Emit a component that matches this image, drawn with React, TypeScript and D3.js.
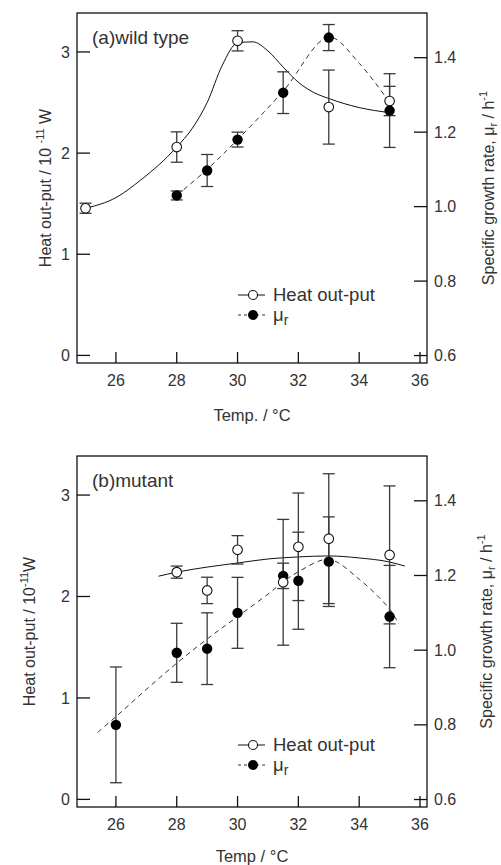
import React from 'react';
import * as d3 from 'd3';

const W = 501;
const H = 865;
const FONT = "'Liberation Sans', Arial, sans-serif";
const INK = '#333';

// axes
const xTicks = [26, 28, 30, 32, 34, 36];
const heatTicks = [0, 1, 2, 3];
const muTicks = [0.6, 0.8, 1.0, 1.2, 1.4];

// (a) wild type – heat out-put (left axis)
const wtHeatTemp = [25, 28, 30, 33, 35];
const wtHeat = [1.455, 2.06, 3.11, 2.455, 2.515];
const wtHeatErr = [0.05, 0.15, 0.1, 0.366, 0.145];

// (a) wild type – specific growth rate (right axis)
const wtMuTemp = [28, 29, 30, 31.5, 33, 35];
const wtMu = [1.03, 1.097, 1.18, 1.306, 1.454, 1.258];
const wtMuErr = [0.012, 0.043, 0.02, 0.056, 0.035, 0.099];

// (a) fitted curves
const wtHeatFitTemp = [25, 26, 26.8, 28, 28.5, 29, 29.5, 30, 30.5, 31, 31.5, 32, 32.5, 33, 34, 35];
const wtHeatFit = [1.455, 1.56, 1.73, 2.06, 2.24, 2.5, 2.87, 3.09, 3.1, 3.01, 2.85, 2.7, 2.6, 2.54, 2.45, 2.4];
const wtMuFitTemp = [28, 29, 30, 31.5, 33, 34, 35];
const wtMuFit = [1.03, 1.1, 1.18, 1.31, 1.455, 1.385, 1.28];

// (b) mutant – heat out-put
const mtHeatTemp = [28, 29, 30, 31.5, 32, 33, 35];
const mtHeat = [2.24, 2.06, 2.46, 2.14, 2.49, 2.57, 2.41];
const mtHeatErr = [0.06, 0.13, 0.14, 0.62, 0.53, 0.64, 0.68];

// (b) mutant – specific growth rate
const mtMuTemp = [26, 28, 29, 30, 31.5, 32, 33, 35];
const mtMu = [0.8, 0.993, 1.004, 1.1, 1.199, 1.186, 1.237, 1.09];
const mtMuErr = [0.155, 0.079, 0.096, 0.095, 0.034, 0.13, 0.12, 0.137];

// (b) fitted curves
const mtHeatFitTemp = [27.4, 28, 29, 30, 31, 32, 33, 34, 35, 35.5];
const mtHeatFit = [2.2, 2.24, 2.29, 2.33, 2.37, 2.39, 2.4, 2.38, 2.34, 2.3];
const mtMuFitTemp = [25.4, 26, 27, 28, 29, 30, 31, 31.5, 32, 33, 34, 35, 35.3];
const mtMuFit = [0.78, 0.822, 0.895, 0.965, 1.03, 1.09, 1.15, 1.183, 1.21, 1.243, 1.19, 1.11, 1.07];

type Series = { t: number[]; v: number[]; e?: number[] };

type PanelProps = {
  top: number;
  height: number;
  title: string;
  xLabel: string;
  xLabelDy: number;
  heat: Series;
  mu: Series;
  heatFit: Series;
  muFit: Series;
  legendY: number;
  leftLabelX: number;
  rightLabelX: number;
  powerGap: string;
};

const Panel = (p: PanelProps) => {
  const bottom = p.top + p.height;
  const x = d3.scaleLinear().domain([24.72, 36.23]).range([77, 427]);
  const yL = d3.scaleLinear().domain([-0.075, 3.385]).range([bottom, p.top]);
  const yR = d3.scaleLinear().domain([0.58, 1.52]).range([bottom, p.top]);
  const midY = p.top + p.height / 2;

  const heatLine = d3
    .line<[number, number]>()
    .x((d) => x(d[0]))
    .y((d) => yL(d[1]))
    .curve(d3.curveMonotoneX);
  const muLine = d3
    .line<[number, number]>()
    .x((d) => x(d[0]))
    .y((d) => yR(d[1]))
    .curve(d3.curveCatmullRom);

  const pts = (s: Series) => s.t.map((t, i) => [t, s.v[i]] as [number, number]);

  const errBars = (s: Series, y: d3.ScaleLinear<number, number>, key: string) =>
    s.t.map((t, i) => {
      const cx = x(t);
      const y0 = y(s.v[i] - (s.e ? s.e[i] : 0));
      const y1 = y(s.v[i] + (s.e ? s.e[i] : 0));
      return (
        <g key={key + i} stroke="#3a3a3a" strokeWidth={1.3}>
          <line x1={cx} x2={cx} y1={y0} y2={y1} />
          <line x1={cx - 6} x2={cx + 6} y1={y0} y2={y0} />
          <line x1={cx - 6} x2={cx + 6} y1={y1} y2={y1} />
        </g>
      );
    });

  const lx = 238;
  const ly = p.top + p.legendY;

  return (
    <g fontFamily={FONT} fill={INK}>
      {/* frame */}
      <rect x={77} y={p.top} width={350} height={p.height} fill="none" stroke="#111" strokeWidth={1.3} />

      {/* x ticks */}
      {xTicks.map((t) => (
        <g key={'x' + t}>
          <line x1={x(t)} x2={x(t)} y1={bottom} y2={bottom - 11} stroke="#111" strokeWidth={1.3} />
          <text x={x(t)} y={bottom + 23} textAnchor="middle" fontSize={16}>
            {t}
          </text>
        </g>
      ))}
      {/* left ticks */}
      {heatTicks.map((t) => (
        <g key={'l' + t}>
          <line x1={77} x2={90} y1={yL(t)} y2={yL(t)} stroke="#111" strokeWidth={1.3} />
          <text x={70} y={yL(t)} dy="0.35em" textAnchor="end" fontSize={16}>
            {t}
          </text>
        </g>
      ))}
      {/* right ticks */}
      {muTicks.map((t) => (
        <g key={'r' + t}>
          <line x1={414} x2={427} y1={yR(t)} y2={yR(t)} stroke="#111" strokeWidth={1.3} />
          <text x={434} y={yR(t)} dy="0.35em" fontSize={16}>
            {d3.format('.1f')(t)}
          </text>
        </g>
      ))}

      {/* fitted curves */}
      <path d={heatLine(pts(p.heatFit)) || ''} fill="none" stroke="#111" strokeWidth={1} />
      <path d={muLine(pts(p.muFit)) || ''} fill="none" stroke="#333" strokeWidth={1} strokeDasharray="5,4" />

      {/* error bars */}
      {errBars(p.heat, yL, 'he')}
      {errBars(p.mu, yR, 'me')}

      {/* markers */}
      {p.mu.t.map((t, i) => (
        <circle key={'mm' + i} cx={x(t)} cy={yR(p.mu.v[i])} r={5.2} fill="#000" />
      ))}
      {p.heat.t.map((t, i) => (
        <circle key={'hm' + i} cx={x(t)} cy={yL(p.heat.v[i])} r={4.8} fill="#fff" stroke="#111" strokeWidth={1.1} />
      ))}

      {/* title */}
      <text x={92} y={p.top + 31} fontSize={19}>
        {p.title}
      </text>

      {/* legend */}
      <line x1={lx} x2={lx + 27} y1={ly} y2={ly} stroke="#111" strokeWidth={1} />
      <circle cx={lx + 15} cy={ly} r={4.5} fill="#fff" stroke="#111" strokeWidth={1.1} />
      <text x={lx + 35} y={ly} dy="0.35em" fontSize={18.5}>
        Heat out-put
      </text>
      <line x1={lx} x2={lx + 27} y1={ly + 20} y2={ly + 20} stroke="#333" strokeWidth={1} strokeDasharray="3,3" />
      <circle cx={lx + 15} cy={ly + 20} r={5} fill="#000" />
      <text x={lx + 35} y={ly + 20} dy="0.35em" fontSize={18.5}>
        μ<tspan fontSize={14} dy={4}>r</tspan>
      </text>

      {/* axis titles */}
      <text x={252} y={bottom + p.xLabelDy} textAnchor="middle" fontSize={16.5}>
        {p.xLabel}
      </text>
      <text transform={`translate(${p.leftLabelX},${midY}) rotate(-90)`} textAnchor="middle" fontSize={16}>
        Heat out-put / 10{p.powerGap}
        <tspan fontSize={11} dy={-7}>-11</tspan>
        <tspan dy={7}>{p.powerGap}W</tspan>
      </text>
      <text transform={`translate(${p.rightLabelX},${midY}) rotate(-90)`} textAnchor="middle" fontSize={16}>
        Specific growth rate, μ<tspan fontSize={11} dy={3}>r</tspan>
        <tspan dy={-3}> / h</tspan>
        <tspan fontSize={11} dy={-7}>-1</tspan>
      </text>
    </g>
  );
};

export default function App() {
  return (
    <svg width={W} height={H} style={{ position: 'absolute', left: 0, top: 0, background: '#fff' }}>
      <rect width={W} height={H} fill="#fff" />
      <Panel
        top={13}
        height={350}
        title="(a)wild type"
        xLabel="Temp. / °C"
        xLabelDy={58}
        heat={{ t: wtHeatTemp, v: wtHeat, e: wtHeatErr }}
        mu={{ t: wtMuTemp, v: wtMu, e: wtMuErr }}
        heatFit={{ t: wtHeatFitTemp, v: wtHeatFit }}
        muFit={{ t: wtMuFitTemp, v: wtMuFit }}
        legendY={282}
        leftLabelX={51}
        rightLabelX={494}
        powerGap=" "
      />
      <Panel
        top={456}
        height={351}
        title="(b)mutant"
        xLabel="Temp / °C"
        xLabelDy={55}
        heat={{ t: mtHeatTemp, v: mtHeat, e: mtHeatErr }}
        mu={{ t: mtMuTemp, v: mtMu, e: mtMuErr }}
        heatFit={{ t: mtHeatFitTemp, v: mtHeatFit }}
        muFit={{ t: mtMuFitTemp, v: mtMuFit }}
        legendY={289}
        leftLabelX={35}
        rightLabelX={492}
        powerGap=""
      />
    </svg>
  );
}
